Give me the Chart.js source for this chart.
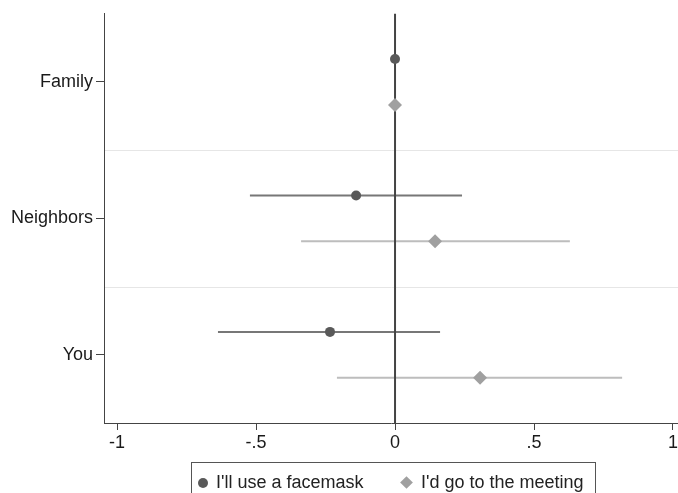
<!DOCTYPE html>
<html>
<head>
<meta charset="utf-8">
<script src="https://cdn.jsdelivr.net/npm/chart.js@4/dist/chart.umd.min.js"></script>
<style>
  html, body { margin: 0; background: #fff; overflow: hidden; }
  #wrap { position: relative; width: 678px; height: 493px; overflow: hidden; }
  #legend {
    position: absolute; left: 191px; top: 462px; width: 405px; height: 40px;
    border: 1px solid #555; box-sizing: border-box;
    font: 18px "Liberation Sans", Arial, sans-serif; color: #222;
  }
  #legend span { position: absolute; top: 9px; white-space: nowrap; }
  .dot { position: absolute; width: 10px; height: 10px; border-radius: 50%; background: #595959; left: 6px; top: 15px; }
  .dia { position: absolute; width: 9px; height: 9px; background: #a0a0a0; transform: rotate(45deg); left: 210px; top: 15px; }
</style>
</head>
<body>
<div id="wrap">
  <canvas id="c" width="685" height="493"></canvas>
  <div id="legend">
    <div class="dot"></div><span style="left:24px">I'll use a facemask</span>
    <div class="dia"></div><span style="left:229px">I'd go to the meeting</span>
  </div>
</div>
<script>
// categories bottom -> top
var categories = ["You", "Neighbors", "Family"];
var maskEst = [-0.234, -0.14, 0];
var maskLo = [-0.637, -0.522, 0];
var maskHi = [0.162, 0.241, 0];
var meetEst = [0.306, 0.144, 0];
var meetLo = [-0.209, -0.338, 0];
var meetHi = [0.817, 0.629, 0];
var xTicks = [-1, -0.5, 0, 0.5, 1];
var xLabels = ["-1", "-.5", "0", ".5", "1"];

var off = 0.168;
var font = { family: "'Liberation Sans', Arial, sans-serif", size: 18 };

var ciPlugin = {
  id: "ci",
  beforeDatasetsDraw: function (chart) {
    var ctx = chart.ctx, xs = chart.scales.x, ys = chart.scales.y, a = chart.chartArea;
    ctx.save();
    // separators
    ctx.strokeStyle = "#e6e6e6";
    ctx.lineWidth = 1;
    [0.5, 1.5].forEach(function (v) {
      var y = Math.round(ys.getPixelForValue(v)) + 0.5;
      ctx.beginPath(); ctx.moveTo(a.left + 1, y); ctx.lineTo(a.right, y); ctx.stroke();
    });
    // CI lines
    ctx.lineWidth = 2;
    categories.forEach(function (c, i) {
      ctx.strokeStyle = "#777";
      var y = ys.getPixelForValue(i + off);
      ctx.beginPath(); ctx.moveTo(xs.getPixelForValue(maskLo[i]), y); ctx.lineTo(xs.getPixelForValue(maskHi[i]), y); ctx.stroke();
      ctx.strokeStyle = "#bdbdbd";
      y = ys.getPixelForValue(i - off);
      ctx.beginPath(); ctx.moveTo(xs.getPixelForValue(meetLo[i]), y); ctx.lineTo(xs.getPixelForValue(meetHi[i]), y); ctx.stroke();
    });
    // zero line
    ctx.strokeStyle = "#444";
    ctx.lineWidth = 2;
    var x0 = xs.getPixelForValue(0);
    ctx.beginPath(); ctx.moveTo(x0, a.top); ctx.lineTo(x0, a.bottom); ctx.stroke();
    ctx.restore();
  }
};

new Chart(document.getElementById("c"), {
  type: "scatter",
  data: {
    datasets: [
      {
        label: "I'll use a facemask",
        data: maskEst.map(function (v, i) { return { x: v, y: i + off }; }),
        pointStyle: "circle", pointRadius: 5,
        backgroundColor: "#595959", borderColor: "#595959", borderWidth: 0
      },
      {
        label: "I'd go to the meeting",
        data: meetEst.map(function (v, i) { return { x: v, y: i - off }; }),
        pointStyle: "rectRot", pointRadius: 7,
        backgroundColor: "#a0a0a0", borderColor: "#a0a0a0", borderWidth: 0
      }
    ]
  },
  options: {
    responsive: false,
    animation: false,
    layout: { padding: { top: 10, left: 0, right: 0, bottom: 0 } },
    plugins: { legend: { display: false }, tooltip: { enabled: false } },
    scales: {
      x: {
        type: "linear", min: -1.047, max: 1.018,
        afterBuildTicks: function (ax) { ax.ticks = xTicks.map(function (v) { return { value: v }; }); },
        afterFit: function (ax) { ax.height = 70; },
        ticks: {
          autoSkip: false, maxRotation: 0, padding: 2, color: "#1a1a1a", font: font,
          callback: function (v) { return xLabels[xTicks.indexOf(v)]; }
        },
        grid: { drawOnChartArea: false, tickLength: 7, color: "#444", lineWidth: 1 },
        border: { color: "#444", width: 1 }
      },
      y: {
        type: "linear", min: -0.5, max: 2.5,
        afterBuildTicks: function (ax) { ax.ticks = categories.map(function (c, i) { return { value: i }; }); },
        afterFit: function (ax) { ax.width = 104; },
        ticks: {
          autoSkip: false, padding: 3, color: "#1a1a1a", font: font,
          callback: function (v) { return categories[v]; }
        },
        grid: { drawOnChartArea: false, tickLength: 8, color: "#444", lineWidth: 1 },
        border: { color: "#444", width: 1 }
      }
    }
  },
  plugins: [ciPlugin]
});
</script>
</body>
</html>
